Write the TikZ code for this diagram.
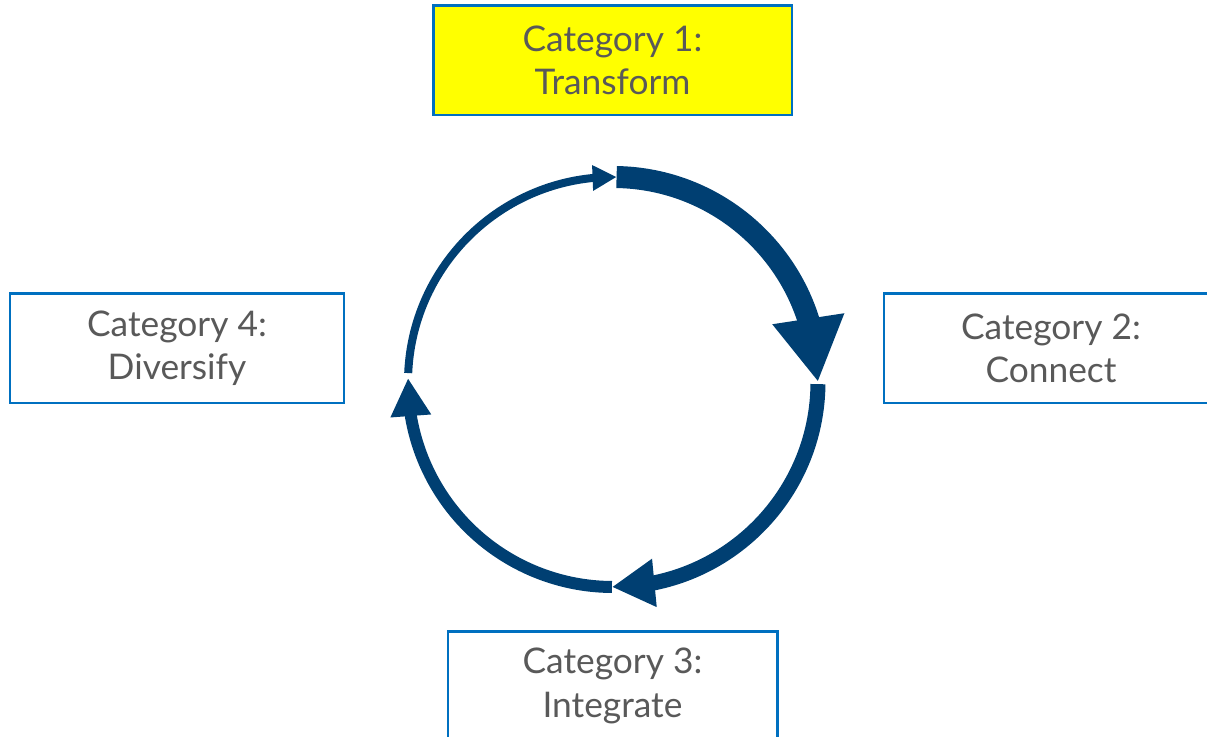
\documentclass[tikz,border=0pt]{standalone}
\usepackage{fontspec}
\setmainfont{Lato}
\usetikzlibrary{positioning,arrows.meta,bending}
\definecolor{catblue}{RGB}{0,112,192}
\definecolor{cycleblue}{RGB}{0,63,114}
\definecolor{catyellow}{RGB}{255,255,0}
\definecolor{textgray}{RGB}{89,89,89}
\tikzstyle{category} = [
  rectangle, draw=catblue, line width=2pt, fill=white,
  text=textgray, align=center, font=\fontsize{26.5}{32.5}\selectfont,
  minimum height=82pt
]
\tikzstyle{cycle} = [draw=cycleblue, line cap=butt]

\begin{document}
\begin{tikzpicture}[x=0.75pt, y=-0.75pt]
        \useasboundingbox (0,0) rectangle (1207,737);
        % Categories -------------------------------------------------------------------------------
        \coordinate (hub) at (613,382);
        \node[category, minimum width=269pt, fill=catyellow](transform) at (612.5,60.5){Category 1:\\Transform};
        \node[category, minimum width=250.5pt](connect) at (1051,348.5){Category 2:\\Connect};
        \node[category, minimum width=247pt](integrate) at (612.5,686){Category 3:\\Integrate};
        \node[category, minimum width=250.5pt](diversify) at (177,348.5){Category 4:\\Diversify};
        % Cycle ------------------------------------------------------------------------------------
        \draw[cycle, line width=6pt, -{Triangle[width=18pt,length=18pt]}] (hub) ++(182.5:205) arc[start angle=182.5, end angle=271, radius=205];
        \draw[cycle, line width=16.5pt, -{Triangle[width=51pt,length=48pt]}] (hub) ++(271:205) arc[start angle=271, end angle=360, radius=205];
        \draw[cycle, line width=11.25pt, -{Triangle[width=34pt,length=32pt]}] (hub) ++(0.6:205) arc[start angle=0.6, end angle=90.3, radius=205];
        \draw[cycle, line width=9pt, -{Triangle[width=28.5pt,length=28.5pt]}] (hub) ++(90.3:205) arc[start angle=90.3, end angle=181.1, radius=205];
    \end{tikzpicture}
\end{document}
